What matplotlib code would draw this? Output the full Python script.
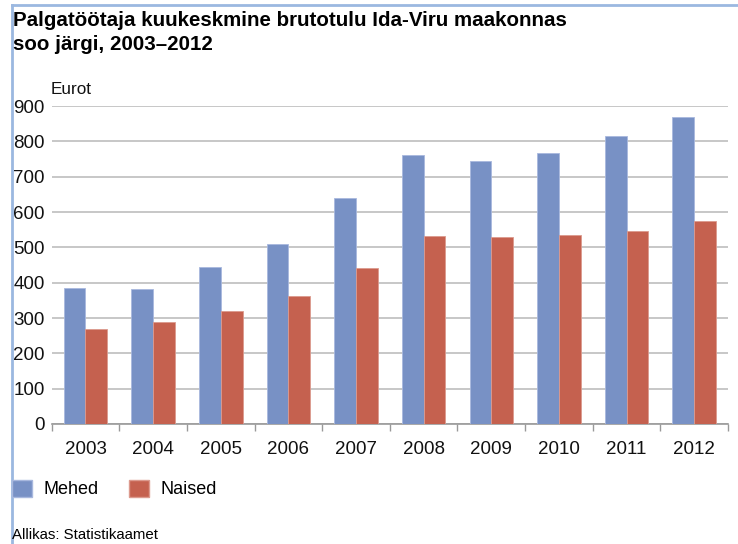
import numpy as np
import matplotlib.pyplot as plt
from matplotlib.patches import Patch
from matplotlib.lines import Line2D

# data
years = ['2003', '2004', '2005', '2006', '2007', '2008', '2009', '2010', '2011', '2012']
mehed = [384, 382, 444, 509, 640, 761, 743, 767, 815, 869]
naised = [269, 288, 320, 362, 442, 532, 529, 535, 547, 575]

blue = '#7891c5'
red = '#c5614f'

plt.rcParams['font.family'] = ['Liberation Sans', 'DejaVu Sans']

fig = plt.figure(figsize=(7.38, 5.44), dpi=100)
ax = fig.add_axes([0.070, 0.2206, 0.9165, 0.5845])

x = np.arange(len(years))
w = 0.322
ax.bar(x - w / 2, mehed, w, color=blue, edgecolor='#a8b8de', linewidth=0.6, zorder=3)
ax.bar(x + w / 2, naised, w, color=red, edgecolor='#dc9a8e', linewidth=0.6, zorder=3)

ax.set_xlim(-0.5, len(years) - 0.5)
ax.set_ylim(0, 900)
ax.set_yticks(np.arange(0, 901, 100))
ax.set_xticks(x)
ax.set_xticklabels(years)
ax.set_xticks(np.arange(-0.5, len(years), 1), minor=True)
ax.yaxis.grid(True, color='#bdbdbd', linewidth=1.2, zorder=0)
ax.tick_params(axis='y', length=0, pad=5, labelsize=13.5, colors='#111111')
ax.tick_params(axis='x', which='major', length=0, pad=12, labelsize=13.5, colors='#111111')
ax.tick_params(axis='x', which='minor', length=5, color='#999999', width=1)
for s in ['top', 'right', 'left']:
    ax.spines[s].set_visible(False)
ax.spines['bottom'].set_color('#999999')
ax.spines['bottom'].set_linewidth(1.2)

fig.text(51 / 738, 1 - 90 / 544, 'Eurot', fontsize=12.3, va='center', ha='left', color='#111111')

fig.text(13 / 738, 1 - 20 / 544, 'Palgatöötaja kuukeskmine brutotulu Ida-Viru maakonnas',
         fontsize=14.8, fontweight='bold', va='center', ha='left')
fig.text(13 / 738, 1 - 45 / 544, 'soo järgi, 2003–2012',
         fontsize=14.8, fontweight='bold', va='center', ha='left')

handles = [Patch(facecolor=blue, edgecolor='#a8b8de'), Patch(facecolor=red, edgecolor='#dc9a8e')]
fig.legend(handles, ['Mehed', 'Naised'], loc='center left', bbox_to_anchor=(12 / 738, 1 - 489 / 544),
           ncol=2, frameon=False, fontsize=13, handlelength=1.1, handleheight=1.1,
           columnspacing=1.7, handletextpad=0.64, borderpad=0, borderaxespad=0)

fig.text(12 / 738, 1 - 535 / 544, 'Allikas: Statistikaamet', fontsize=10.8, va='center', ha='left')

# light blue frame on top and left
fig.add_artist(Line2D([12 / 738, 1], [1 - 5 / 544, 1 - 5 / 544], color='#9bb8e0', linewidth=2))
fig.add_artist(Line2D([12 / 738, 12 / 738], [0, 1 - 5 / 544], color='#9bb8e0', linewidth=2))

fig.savefig('out.png', dpi=100)
